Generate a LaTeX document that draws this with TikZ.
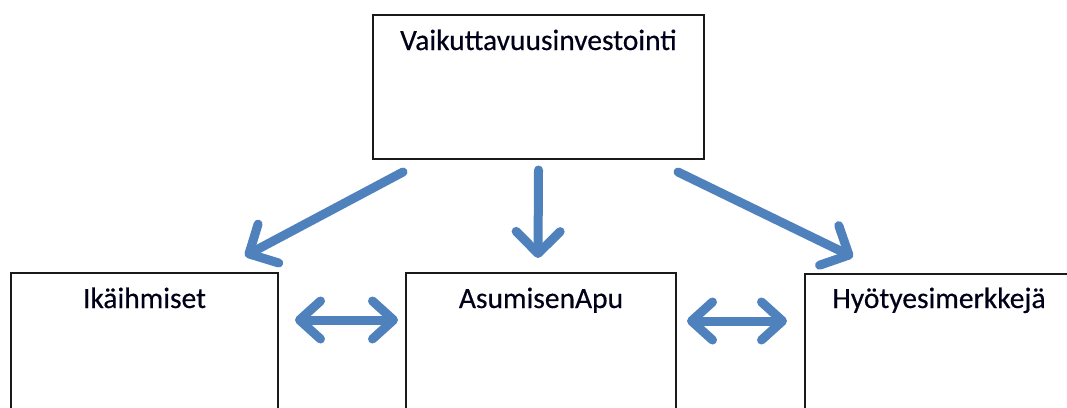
\documentclass[tikz,border=0pt]{standalone}
\usepackage{fontspec}
\setmainfont{Carlito}
\newfontfamily\boxfont{Carlito}[FakeBold=0.4]
\usetikzlibrary{arrows.meta,calc}
\definecolor{arrowblue}{HTML}{4F81BD}
\definecolor{boxline}{HTML}{1A1A1A}
\begin{document}
\begin{tikzpicture}[x=1pt,y=-1pt,
  box/.style={draw=boxline,line width=2pt,fill=white,inner sep=0pt,anchor=north west},
  boxtext/.style={anchor=base,font=\boxfont\fontsize{29.5}{34}\selectfont,text=black!90!blue,inner sep=0pt},
  bluearrow/.style={draw=arrowblue,line width=9pt,line cap=round,
    -{Straight Barb[length=22pt,width=44pt,line cap=round,line join=round]}},
  bluedouble/.style={draw=arrowblue,line width=9pt,line cap=round,
    {Straight Barb[length=21pt,width=38pt,line cap=round,line join=round]}-{Straight Barb[length=21pt,width=38pt,line cap=round,line join=round]}}]
\useasboundingbox (0,0) rectangle (1067,407);
\clip (0,0) rectangle (1067,407);
\fill[white] (0,0) rectangle (1067,407);
\node[box,minimum width=331pt,minimum height=144pt] (top) at (372,14) {};
\node[box,minimum width=267pt,minimum height=150pt] (left) at (10,272) {};
\node[box,minimum width=270pt,minimum height=150pt] (mid) at (405,272) {};
\node[box,minimum width=268pt,minimum height=150pt] (right) at (804,273) {};
\node[boxtext] (toptext) at ($(top.north)+(0,36)$) {Vaikuttavuusinvestointi};
\node[boxtext] (lefttext) at ($(left.north)+(0,36)$) {Ikäihmiset};
\node[boxtext] (midtext) at ($(mid.north)+(0,36)$) {AsumisenApu};
\node[boxtext] (righttext) at ($(right.north)+(0,35)$) {Hyötyesimerkkejä};
\coordinate (a1s) at ($(top.south west)+(31,12)$);
\coordinate (a1e) at ($(left.north west)+(235,-16)$);
\coordinate (a2s) at ($(top.south)+(0,10)$);
\coordinate (a2e) at ($(mid.north)+(-3,-14)$);
\coordinate (a3s) at ($(top.south east)+(-27,12)$);
\coordinate (a3e) at ($(right.north west)+(49,-16)$);
\coordinate (d1s) at ($(left.north east)+(16,48)$);
\coordinate (d1e) at ($(mid.north west)+(-7,48)$);
\coordinate (d2s) at ($(mid.north east)+(10,49)$);
\coordinate (d2e) at ($(right.north west)+(-17,48)$);
\draw[bluearrow] (a1s) -- (a1e);
\draw[bluearrow] (a2s) -- (a2e);
\draw[bluearrow] (a3s) -- (a3e);
\draw[bluedouble] (d1s) -- (d1e);
\draw[bluedouble] (d2s) -- (d2e);
\end{tikzpicture}
\end{document}
